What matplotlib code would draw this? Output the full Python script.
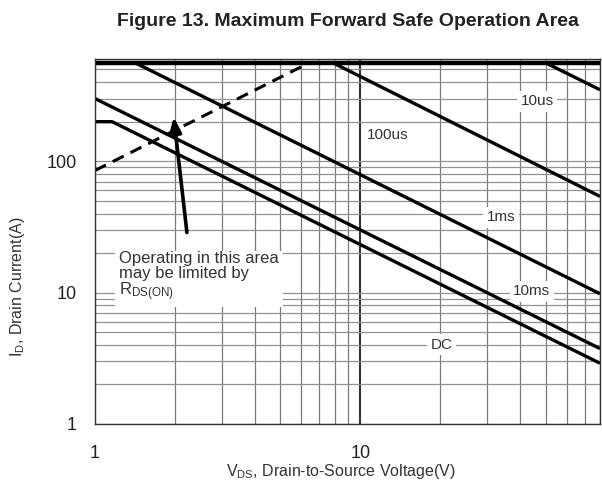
import matplotlib
matplotlib.use("Agg")
import matplotlib.pyplot as plt
from matplotlib.ticker import LogLocator, FixedLocator, NullFormatter

plt.rcParams['font.family'] = ['Liberation Sans', 'DejaVu Sans']
plt.rcParams['mathtext.fontset'] = 'custom'
plt.rcParams['mathtext.rm'] = 'Liberation Sans'
plt.rcParams['mathtext.it'] = 'Liberation Sans'

# ---- data ----
xlim = [1, 80]
ylim = [1, 600]
x_ticks = [1, 10]
x_tick_labels = ["1", "10"]
y_ticks = [1, 10, 100]
y_tick_labels = ["1", "10", "100"]

limit_v = [1, 80]
limit_i = [560, 560]

rds_v = [1, 6.4]
rds_i = [85, 560]

us10_v = [50, 80]
us10_i = [560, 350]

us100_v = [7.9, 80]
us100_i = [560, 54]

ms1_v = [1.42, 80]
ms1_i = [560, 9.8]

ms10_v = [1, 80]
ms10_i = [300, 3.75]

dc_v = [1, 1.16, 80]
dc_i = [200, 200, 2.9]

curve_labels = ["10us", "100us", "1ms", "10ms", "DC"]
label_v = [46.3, 12.7, 33.9, 44.3, 20.3]
label_i = [287, 158, 37.4, 10.2, 4.0]

note_text = "Operating in this area\nmay be limited by\nR$_{\\mathregular{DS(ON)}}$"
note_pos = (1.23, 20.9)
arrow_tail = (2.22, 28.7)
arrow_tip = (1.98, 217)

title = "Figure 13. Maximum Forward Safe Operation Area"
xlabel = "V$_{\\mathregular{DS}}$, Drain-to-Source Voltage(V)"
ylabel = "I$_{\\mathregular{D}}$, Drain Current(A)"

# ---- figure ----
fig = plt.figure(figsize=(6.02, 4.88), dpi=100)
ax = fig.add_axes([95/602, 1-424/488, 505/602, 365/488])
ax.set_xscale('log')
ax.set_yscale('log')
ax.set_xlim(xlim)
ax.set_ylim(ylim)

ax.xaxis.set_major_locator(FixedLocator(x_ticks))
ax.set_xticklabels(x_tick_labels)
ax.yaxis.set_major_locator(FixedLocator(y_ticks))
ax.set_yticklabels(y_tick_labels)
ax.xaxis.set_minor_locator(LogLocator(base=10, subs=range(2, 10)))
ax.yaxis.set_minor_locator(LogLocator(base=10, subs=range(2, 10)))
ax.xaxis.set_minor_formatter(NullFormatter())
ax.yaxis.set_minor_formatter(NullFormatter())
ax.tick_params(which='both', length=0, labelsize=13, colors='#222222')
ax.tick_params(axis='x', pad=15)
ax.tick_params(axis='y', pad=13)

ax.grid(True, which='both', axis='y', color='#929292', lw=0.9)
ax.grid(True, which='both', axis='x', color='#7a7a7a', lw=0.9)
ax.grid(True, which='major', axis='x', color='#333333', lw=1.5)
ax.set_axisbelow(True)
for s in ax.spines.values():
    s.set_color('#333333')
    s.set_linewidth(1.0)

lw = 2.4
ax.plot(limit_v, limit_i, color='black', lw=3.2, solid_capstyle='butt')
ax.plot(rds_v, rds_i, color='black', lw=2.2, ls=(0, (4, 2.5)))
for v, i in [(us10_v, us10_i), (us100_v, us100_i), (ms1_v, ms1_i),
             (ms10_v, ms10_i), (dc_v, dc_i)]:
    ax.plot(v, i, color='black', lw=lw, solid_capstyle='butt')

for t, v, i in zip(curve_labels, label_v, label_i):
    ax.text(v, i, t, ha='center', va='center', fontsize=11, color='#333333',
            bbox=dict(facecolor='white', edgecolor='none', pad=2.5))

ax.text(note_pos[0], note_pos[1], note_text, ha='left', va='top', fontsize=12,
        color='#333333', linespacing=1.0,
        bbox=dict(facecolor='white', edgecolor='none', pad=3))
ax.annotate('', xy=arrow_tip, xytext=arrow_tail,
            arrowprops=dict(arrowstyle='-|>,head_length=0.9,head_width=0.35',
                            color='black', lw=2.6, shrinkA=0, shrinkB=0))

fig.text(348/602, 1-22/488, title, ha='center', va='center', fontsize=14,
         fontweight='bold', color='#222222')
ax.set_xlabel(xlabel, fontsize=11.5, color='#333333')
ax.xaxis.set_label_coords(0.487, -0.104)
ax.set_ylabel(ylabel, fontsize=11.5, color='#333333')
ax.yaxis.set_label_coords(-0.135, 0.375)

fig.savefig('out.png', dpi=100)
